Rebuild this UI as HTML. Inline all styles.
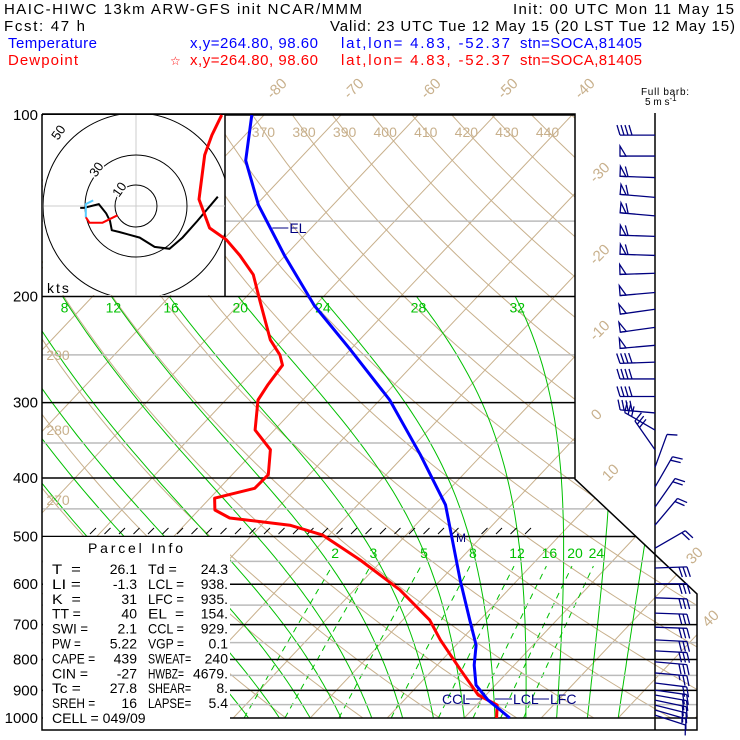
<!DOCTYPE html>
<html><head><meta charset="utf-8"><style>
html,body{margin:0;padding:0;background:#fff;width:740px;height:740px;overflow:hidden}
svg{display:block;font-family:"Liberation Sans",sans-serif}
.pre{white-space:pre}
</style></head><body>
<svg id="c" width="740" height="740" viewBox="0 0 740 740" xmlns="http://www.w3.org/2000/svg">
<defs><clipPath id="clp"><polygon points="42,114 575,114 575,479 697,594 697,730 42,730"/></clipPath></defs>
<g font-size="15">
<text x="4" y="14" textLength="358">HAIC-HIWC 13km ARW-GFS init   NCAR/MMM</text>
<text x="513" y="14" textLength="221">Init: 00 UTC Mon 11 May 15</text>
<text x="4" y="31" textLength="81">Fcst:   47 h</text>
<text x="330" y="31" textLength="405">Valid: 23 UTC Tue 12 May 15 (20 LST Tue 12 May 15)</text>
<g fill="#0000ff">
<text x="8" y="48" textLength="89">Temperature</text>
<text x="190" y="48" textLength="128">x,y=264.80, 98.60</text>
<text x="341" y="48" textLength="169">lat,lon=  4.83, -52.37</text>
<text x="520" y="48" textLength="122">stn=SOCA,81405</text></g>
<g fill="#ff0000">
<text x="8" y="65" textLength="70">Dewpoint</text>
<text x="170" y="65" font-size="12">☆</text>
<text x="190" y="65" textLength="128">x,y=264.80, 98.60</text>
<text x="341" y="65" textLength="169">lat,lon=  4.83, -52.37</text>
<text x="520" y="65" textLength="122">stn=SOCA,81405</text></g>
<text x="641" y="95" font-size="10" textLength="48">Full barb:</text>
<text x="645" y="105" font-size="10">5 m s<tspan dy="-4" font-size="8">-1</tspan></text>
</g>
<g id="bg" clip-path="url(#clp)"></g>
<g id="fg"></g>
</svg>
<script>
const tempP = [100,119,141,171,207,245,297,366,443,500,590,688,757,817,882,934,970,1000];
const tempT = [-81.6,-76.8,-69.7,-60.1,-50.1,-40,-28.7,-18,-8.6,-3.9,2.5,8.7,12.6,14.8,17.5,20.9,23.7,25.9];
const dewP = [100,108,116.5,138,154,161,171,184,203,236,250,260,280,297,333,359,395,416,432,452,466,479,497,547,613,688,742,832,916,952,1000];
const dewT = [-85.5,-84.3,-82.8,-78.1,-73.2,-69.6,-65.9,-61.8,-57.8,-51.6,-48.5,-46.9,-46.4,-45.8,-42.5,-38.1,-35.3,-35.4,-39.4,-37.9,-35,-26.3,-20.9,-12.9,-4.1,3.5,7.3,13.6,19,22.7,24.2];
const windP = [108,117,127,137,147,159,171,183,197,210,225,241,257,274,293,312,333,359,384,414,447,479,523,564,599,632,670,707,742,774,807,842,875,899,916,934,952,970,989];
const windDir = [270,270,272,275,275,272,272,268,265,262,262,265,268,270,270,275,300,325,20,30,35,40,60,88,90,92,92,92,93,93,95,95,97,98,100,102,104,106,108];
const windSpd = [20,25,30,32,32,30,30,27,25,25,25,25,22,22,20,20,17,15,7,12,12,12,12,15,15,15,15,15,15,15,15,14,12,10,10,10,10,8,7];
const pressLevels = [100,200,300,400,500,600,700,800,900,1000];
const pressMinor = [150,250,350,450,550,650,750,850,950];
const isoTemps = [-130,-120,-110,-100,-90,-80,-70,-60,-50,-40,-30,-20,-10,0,10,20,30,40,50];
const dryTheta = [250,260,270,280,290,300,310,320,330,340,350,360,370,380,390,400,410,420,430,440,450,460,470,480];
const moistThetaW = [-8,-4,0,4,8,12,16,20,24,28,32,36,40];
const moistLabels = [8,12,16,20,24,28,32];
const mixRatios = [2,3,5,8,12,16,20,24];
const topIsoLabels = [-80,-70,-60,-50,-40];
const topThetaLabels = [370,380,390,400,410,420,430,440];
const leftThetaLabels = [270,280,290];
const hodoU = [44,33,25,18,10,2,-9,-13,-14,-16,-20,-28,-30];
const hodoV = [5,-8,-17,-23,-22,-17,-14,-13,-8,-4,1,-1,-1];
const hodoRedU = [-27,-25,-18,-10];
const hodoRedV = [-6,-9,-9,-5];
const hodoCyanU = [-23,-27,-27];
const hodoCyanV = [3,1,-6];
const parcelRows = [["T  =","26.1","Td =","24.3"],["LI =","-1.3","LCL =","938."],["K  =","31","LFC =","935."],["TT =","40","EL  =","154."],["SWI =","2.1","CCL =","929."],["PW =","5.22","VGP =","0.1"],["CAPE =","439","SWEAT=","240"],["CIN =","-27","HWBZ=","4679."],["Tc =","27.8","SHEAR=","8."],["SREH =","16","LAPSE=","5.4"]];
const elP = 154, lclP = 930;

const Y = p => 718 - 261.9*Math.log(1000/p);
const X = (T,p) => 573 + 7.7*(T+40) - 0.945*(Y(p)-114);
const NS="http://www.w3.org/2000/svg";
const bg=document.getElementById('bg'), fg=document.getElementById('fg');
function mk(tag,attrs,parent){const e=document.createElementNS(NS,tag);for(const k in attrs)e.setAttribute(k,attrs[k]);parent.appendChild(e);return e;}
function ptsStr(arr){return arr.map(a=>a[0].toFixed(1)+','+a[1].toFixed(1)).join(' ');}
const TAN="#c8b08c", GRN="#00c000";

isoTemps.forEach(T=>{
  const e=mk('line',{x1:X(T,1000),y1:Y(1000),x2:X(T,100),y2:Y(100),stroke:TAN,'stroke-width':1},bg);
  
  
});
dryTheta.forEach(th=>{
  const a=[];for(let p=1000;p>=100;p-=10){a.push([X(th*Math.pow(p/1000,0.2857)-273.15,p),Y(p)]);}
  const e=mk('polyline',{points:ptsStr(a),fill:'none',stroke:TAN,'stroke-width':1},bg);
  
  
});
function es(Tc){return 6.112*Math.exp(17.67*Tc/(Tc+243.5));}
function moist(tw){
  const a=[];let T=tw+273.15;
  for(let p=1000;p>=200;p-=2){
    if(p%10===0)a.push([X(T-273.15,p),Y(p)]);
    const e=es(T-273.15), rs=0.622*e/(p-e);
    const dTdp=(287*T+2.5e6*rs)/(p*(1005+2.5e6*2.5e6*rs*0.622/(287*T*T)));
    T-=dTdp*2;
  }
  return a;
}
const moistEnds={};
moistThetaW.forEach(tw=>{
  const a=moist(tw);moistEnds[tw]=a[a.length-1];
  const e=mk('polyline',{points:ptsStr(a),fill:'none',stroke:GRN,'stroke-width':1},bg);
  
  
});
function tdFromW(w,p){const e=w*p/(622+w);const l=Math.log(e/6.112);return 243.5*l/(17.67-l);}
mixRatios.forEach(w=>{
  const a=[];for(let p=1000;p>=560;p-=10)a.push([X(tdFromW(w,p),p),Y(p)]);
  const e=mk('polyline',{points:ptsStr(a),fill:'none',stroke:GRN,'stroke-width':1,'stroke-dasharray':'6,5'},bg);
  
  
});
pressMinor.forEach(p=>{
  const e=mk('line',{x1:42,x2:697,y1:Y(p),y2:Y(p),stroke:'#bbbbbb','stroke-width':1.5},bg);
  
  
});
pressLevels.forEach(p=>{
  const e=mk('line',{x1:42,x2:697,y1:Y(p),y2:Y(p),stroke:'#000','stroke-width':1.5},bg);
  
  
});
pressLevels.forEach(p=>{
  const t=mk('text',{x:38,y:Y(p)+5,'text-anchor':'end','font-size':15},fg);t.textContent=p;
  
  
});
topIsoLabels.forEach(T=>{
  const x=X(T,100)+16,y=92;
  const t=mk('text',{x:x,y:y,'text-anchor':'middle','font-size':15,fill:TAN,transform:`rotate(-45 ${x} ${y})`},fg);t.textContent=T;
  
  
});
[[-30,603,176],[-20,603,258],[-10,603,334],[0,600,418],[10,614,476],[30,698,559],[40,714,622]].forEach(r=>{
  const t=mk('text',{x:r[1],y:r[2],'text-anchor':'middle','font-size':15,fill:TAN,transform:`rotate(-45 ${r[1]} ${r[2]})`},fg);t.textContent=r[0];
  
  
});
topThetaLabels.forEach(th=>{
  const y=131;const p=1000*Math.exp(-(718-y)/261.9);
  const t=mk('text',{x:X(th*Math.pow(p/1000,0.2857)-273.15,p),y:y+6,'text-anchor':'middle','font-size':14,fill:TAN},fg);t.textContent=th;
  
  
});
leftThetaLabels.forEach((th,i)=>{
  const t=mk('text',{x:58,y:[505,435,360][i],'text-anchor':'middle','font-size':14,fill:TAN},fg);t.textContent=th;
  
  
});
moistLabels.forEach(tw=>{
  const a=moistEnds[tw];
  const t=mk('text',{x:a[0]+2,y:a[1]+16,'text-anchor':'middle','font-size':14,fill:GRN},fg);t.textContent=tw;
  
  
});
mixRatios.forEach(w=>{
  const t=mk('text',{x:X(tdFromW(w,560),560)+3,y:558,'text-anchor':'middle','font-size':14,fill:GRN},fg);t.textContent=w;
  
  
});
const fr=mk('polyline',{points:"42,114 575,114 575,479 697,594 697,730 42,730 42,114",fill:'none',stroke:'#000','stroke-width':1.5},fg);


for(let x=90;x<=535;x+=14.5){
  if(x>455&&x<470)continue;
  const e=mk('line',{x1:x,y1:534,x2:x+6,y2:528,stroke:'#000','stroke-width':1},fg);
  
  
}
const mt=mk('text',{x:456,y:542,'font-size':12,fill:'#000080'},fg);mt.textContent='M';


const hb=mk('rect',{x:43,y:115,width:182,height:180,fill:'#fff'},fg);


mk('line',{x1:225,y1:114,x2:225,y2:296,stroke:'#000','stroke-width':1.5},fg);
const hc=[136,206], hs=1.86;
mk('line',{x1:43,x2:225,y1:206,y2:206,stroke:'#ccc'},fg);
mk('line',{x1:136,x2:136,y1:115,y2:295,stroke:'#ccc'},fg);
const hg=mk('g',{},fg);


const hcl=mk('clipPath',{id:'hclip'},hg);mk('rect',{x:43,y:115,width:182,height:180},hcl);
[21,51,93].forEach(r=>{
  const e=mk('circle',{cx:136,cy:206,r:r,fill:'none',stroke:'#000','stroke-width':1,'clip-path':'url(#hclip)'},hg);
  
  
});
[["10",123,192],["30",100,172],["50",62,135]].forEach(r=>{
  const t=mk('text',{x:r[1],y:r[2],'text-anchor':'middle','font-size':13,transform:`rotate(-55 ${r[1]} ${r[2]})`,stroke:'#fff','stroke-width':3,'paint-order':'stroke'},hg);t.textContent=r[0];
  
  
});
const kt=mk('text',{x:47,y:293,'font-size':14,'letter-spacing':2},hg);kt.textContent='kts';


function hodoLine(U,V,col,name){
  const a=U.map((u,i)=>[hc[0]+u*hs,hc[1]-V[i]*hs]);
  const e=mk('polyline',{points:ptsStr(a),fill:'none',stroke:col,'stroke-width':2},hg);
  
  
}
hodoLine(hodoU,hodoV,'#000','hodograph-trace');
hodoLine(hodoRedU,hodoRedV,'#ff0000','hodograph-trace-low');
hodoLine(hodoCyanU,hodoCyanV,'#55ccff','hodograph-trace-mid');
const pb=mk('rect',{x:43,y:537,width:187,height:192,fill:'#fff'},fg);


const ph=mk('text',{x:88,y:553,'font-size':14,textLength:95},fg);ph.textContent='Parcel Info';


function plabel(g,s,x,y){
  const t=mk('text',{x:x,y:y,class:'pre',textLength:(s.length*7.2).toFixed(1),lengthAdjust:'spacingAndGlyphs'},g);
  t.textContent=s;return t;
}
function pval(g,s,x,y){
  const t=mk('text',{x:x,y:y,'text-anchor':'end'},g);t.textContent=s;return t;
}
parcelRows.forEach((r,i)=>{
  const y=574+i*14.9;
  const g=mk('g',{'font-size':14},fg);
  
  
  plabel(g,r[0],52,y);
  pval(g,r[1],137,y);
  plabel(g,r[2],148,y);
  pval(g,r[3],228,y);
});
const cg=mk('g',{'font-size':14},fg);


plabel(cg,'CELL = 049/09',52,723);
function profile(P,T,col,name){
  const a=P.map((p,i)=>[X(T[i],p),Y(p)]);
  const e=mk('polyline',{points:ptsStr(a),fill:'none',stroke:col,'stroke-width':3,'stroke-linejoin':'round'},fg);
  
  
}
profile(dewP,dewT,'#ff0000','dewpoint-line');
profile(tempP,tempT,'#0000ff','temperature-line');
function interpT(p){for(let i=0;i<tempP.length-1;i++){if(p>=tempP[i]&&p<=tempP[i+1]){const f=Math.log(p/tempP[i])/Math.log(tempP[i+1]/tempP[i]);return tempT[i]+f*(tempT[i+1]-tempT[i]);}}return tempT[0];}
const ex=X(interpT(elP),elP), ey=Y(elP);
mk('line',{x1:ex+2,y1:ey,x2:ex+18,y2:ey,stroke:'#000080'},fg);
const el=mk('text',{x:ex+19,y:ey+5,'font-size':14,fill:'#000080'},fg);el.textContent='EL';


const ly=Y(lclP);
const lg=mk('g',{fill:'#000080','font-size':14},fg);


mk('text',{x:442,y:ly+5},lg).textContent='CCL';
mk('line',{x1:466,y1:ly,x2:482,y2:ly,stroke:'#000080'},lg);
mk('line',{x1:495,y1:ly,x2:512,y2:ly,stroke:'#000080'},lg);
mk('text',{x:513,y:ly+5},lg).textContent='LCL';
mk('line',{x1:533,y1:ly,x2:549,y2:ly,stroke:'#000080'},lg);
mk('text',{x:550,y:ly+5},lg).textContent='LFC';
const st=mk('line',{x1:655,y1:113,x2:655,y2:730,stroke:'#000','stroke-width':1.5},fg);


windP.forEach((p,i)=>{
  const g=mk('g',{stroke:'#000080',fill:'none','stroke-width':1.3},fg);
  
  
  const y=Y(p), r=windDir[i]*Math.PI/180, dx=Math.sin(r), dy=-Math.cos(r);
  const px=-dy, py=dx, L=p>540?32:35;
  const tx=655+dx*L, ty=y+dy*L;
  mk('line',{x1:655,y1:y,x2:tx,y2:ty},g);
  let s=windSpd[i], pos=0;
  while(s>=25){
    const b1=[tx-dx*pos,ty-dy*pos], b2=[tx-dx*(pos+6),ty-dy*(pos+6)];
    mk('polygon',{points:ptsStr([b1,[b1[0]+px*10,b1[1]+py*10],b2])},g);
    pos+=8;s-=25;
  }
  while(s>=5){
    const b=[tx-dx*pos,ty-dy*pos];
    mk('line',{x1:b[0],y1:b[1],x2:b[0]+px*10+dx*3,y2:b[1]+py*10+dy*3},g);
    pos+=4;s-=5;
  }
  if(s>=2.5){
    if(pos===0)pos=4;
    const b=[tx-dx*pos,ty-dy*pos];
    mk('line',{x1:b[0],y1:b[1],x2:b[0]+px*5+dx*1.5,y2:b[1]+py*5+dy*1.5},g);
  }
});
</script>
</body></html>
